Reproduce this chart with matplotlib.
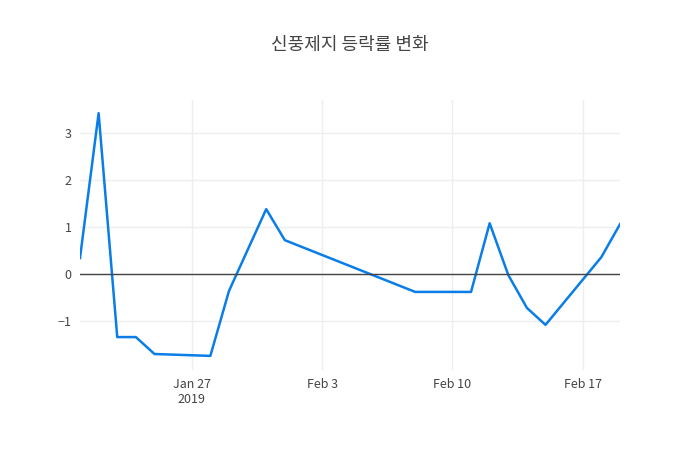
import matplotlib
matplotlib.use("Agg")
import matplotlib.pyplot as plt
import matplotlib.dates as mdates
import pandas as pd

plt.rcParams['font.family'] = ['Noto Sans CJK KR', 'DejaVu Sans']

dates = ["2019-01-21","2019-01-22","2019-01-23","2019-01-24","2019-01-25","2019-01-28",
         "2019-01-29","2019-01-31","2019-02-01","2019-02-08","2019-02-11","2019-02-12",
         "2019-02-13","2019-02-14","2019-02-15","2019-02-18","2019-02-19"]
values = [0.34, 3.42, -1.34, -1.34, -1.70, -1.74, -0.36, 1.38, 0.72, -0.38, -0.38,
          1.08, -0.02, -0.72, -1.08, 0.36, 1.06]
title = "신풍제지 등락률 변화"
tick_dates = ["2019-01-27", "2019-02-03", "2019-02-10", "2019-02-17"]
tick_labels = ["Jan 27\n2019", "Feb 3", "Feb 10", "Feb 17"]

x = pd.to_datetime(dates)
fig = plt.figure(figsize=(7, 4.5), dpi=100)
ax = fig.add_axes([80/700, 80/450, 540/700, 270/450])
ax.plot(x, values, color="#0a7de8", lw=1.8)
ax.axhline(0, color="#444444", lw=1)
ax.set_xlim(x[0], x[-1])
ax.set_ylim(-2.04, 3.7)
ax.set_yticks([-1, 0, 1, 2, 3])
ax.set_yticklabels(["−1", "0", "1", "2", "3"])
ax.set_xticks(pd.to_datetime(tick_dates))
ax.set_xticklabels(tick_labels)
ax.grid(True, color="#eeeeee", lw=1)
ax.set_axisbelow(True)
for s in ax.spines.values():
    s.set_visible(False)
ax.tick_params(length=0, colors="#444444", labelsize=9, pad=6)
fig.suptitle(title, y=1 - 45/450, va="center", fontsize=13, color="#444444")
fig.savefig("out.png")
